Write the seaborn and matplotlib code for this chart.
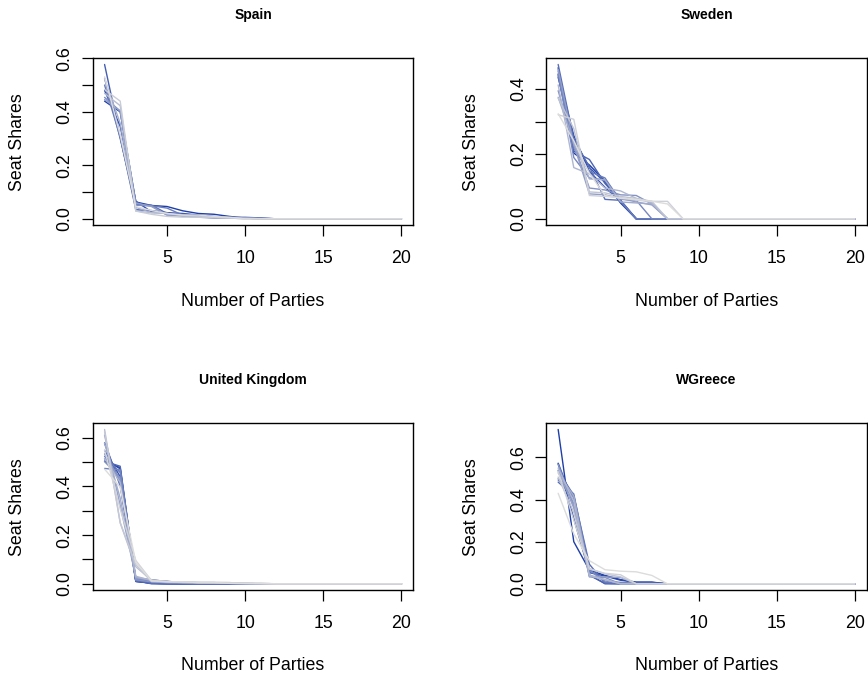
import numpy as np
import pandas as pd
import matplotlib
matplotlib.use("Agg")
import matplotlib.pyplot as plt
import seaborn as sns
from matplotlib.colors import LinearSegmentedColormap

# seat shares per election, largest party first (oldest election first);
# every election is plotted out to 20 parties, the rest being zero seats
N_PARTIES = 20

spain_shares = [
    [0.440, 0.400, 0.063, 0.050, 0.046, 0.030, 0.020, 0.017, 0.009, 0.003],
    [0.480, 0.346, 0.066, 0.026, 0.023, 0.020, 0.014, 0.009, 0.003, 0.003, 0.003],
    [0.577, 0.306, 0.034, 0.031, 0.023, 0.011, 0.006, 0.006, 0.003, 0.003],
    [0.526, 0.300, 0.054, 0.051, 0.020, 0.017, 0.014, 0.006, 0.003, 0.003],
    [0.500, 0.306, 0.051, 0.049, 0.040, 0.014, 0.011, 0.006, 0.006, 0.006, 0.003],
    [0.454, 0.403, 0.051, 0.049, 0.014, 0.011, 0.006, 0.003, 0.003, 0.003],
    [0.446, 0.403, 0.060, 0.046, 0.014, 0.011, 0.006, 0.006, 0.003, 0.003],
    [0.523, 0.357, 0.043, 0.023, 0.020, 0.011, 0.009, 0.003, 0.003, 0.003],
    [0.469, 0.423, 0.029, 0.023, 0.020, 0.014, 0.009, 0.006, 0.003],
    [0.483, 0.440, 0.029, 0.017, 0.009, 0.006, 0.006, 0.006, 0.003],
    [0.531, 0.314, 0.046, 0.031, 0.020, 0.014, 0.014, 0.009, 0.006],
]

sweden_shares = [
    [0.466, 0.203, 0.166, 0.117, 0.049],
    [0.446, 0.257, 0.146, 0.097, 0.054],
    [0.436, 0.246, 0.158, 0.112, 0.049],
    [0.441, 0.209, 0.183, 0.109, 0.057],
    [0.476, 0.246, 0.160, 0.060, 0.057],
    [0.456, 0.218, 0.146, 0.126, 0.054],
    [0.447, 0.189, 0.126, 0.120, 0.060, 0.057],
    [0.395, 0.229, 0.095, 0.089, 0.074, 0.072, 0.046],
    [0.461, 0.229, 0.077, 0.074, 0.063, 0.052, 0.043],
    [0.375, 0.235, 0.123, 0.120, 0.052, 0.049, 0.046],
    [0.413, 0.158, 0.138, 0.095, 0.086, 0.063, 0.049],
    [0.372, 0.278, 0.083, 0.080, 0.069, 0.063, 0.054],
    [0.321, 0.307, 0.072, 0.069, 0.066, 0.057, 0.054, 0.054],
    [0.324, 0.241, 0.140, 0.072, 0.063, 0.060, 0.054, 0.046],
]

uk_shares = [
    [0.504, 0.477, 0.014, 0.003, 0.002],
    [0.514, 0.472, 0.010, 0.003, 0.002],
    [0.548, 0.440, 0.010, 0.003],
    [0.579, 0.410, 0.010, 0.002],
    [0.503, 0.483, 0.014],
    [0.578, 0.402, 0.019, 0.002],
    [0.524, 0.457, 0.013, 0.010, 0.002, 0.002],
    [0.474, 0.468, 0.022, 0.011, 0.011, 0.003, 0.003, 0.002, 0.002],
    [0.502, 0.436, 0.020, 0.017, 0.009, 0.005, 0.003, 0.002, 0.002],
    [0.534, 0.424, 0.017, 0.008, 0.005, 0.003, 0.003, 0.002, 0.002],
    [0.611, 0.322, 0.026, 0.017, 0.009, 0.005, 0.003, 0.003, 0.002, 0.002],
    [0.578, 0.352, 0.026, 0.014, 0.008, 0.005, 0.005, 0.005, 0.005, 0.002],
    [0.516, 0.416, 0.031, 0.014, 0.006, 0.006, 0.005, 0.005, 0.002],
    [0.634, 0.250, 0.070, 0.015, 0.009, 0.006, 0.005, 0.003, 0.003, 0.002, 0.002],
    [0.625, 0.252, 0.079, 0.009, 0.008, 0.008, 0.006, 0.006, 0.005, 0.002],
    [0.550, 0.307, 0.096, 0.014, 0.009, 0.008, 0.005, 0.005, 0.003, 0.002, 0.002],
    [0.471, 0.397, 0.088, 0.012, 0.009, 0.008, 0.005, 0.005, 0.002, 0.002, 0.002],
]

greece_shares = [
    [0.733, 0.200, 0.065, 0.040, 0.020, 0.008, 0.008],
    [0.570, 0.310, 0.053, 0.037, 0.017, 0.007, 0.007],
    [0.573, 0.383, 0.043],
    [0.537, 0.420, 0.040, 0.003],
    [0.483, 0.417, 0.093, 0.003, 0.003],
    [0.493, 0.427, 0.070, 0.007, 0.003],
    [0.500, 0.410, 0.063, 0.013, 0.007, 0.003, 0.003],
    [0.567, 0.370, 0.033, 0.030],
    [0.540, 0.360, 0.037, 0.033, 0.030],
    [0.527, 0.417, 0.037, 0.020],
    [0.550, 0.390, 0.040, 0.020],
    [0.507, 0.340, 0.073, 0.047, 0.033],
    [0.533, 0.303, 0.070, 0.050, 0.043],
    [0.430, 0.237, 0.110, 0.067, 0.060, 0.057, 0.040],
]

countries = ["Spain", "Sweden", "United Kingdom", "WGreece"]
all_shares = [spain_shares, sweden_shares, uk_shares, greece_shares]

y_ticks = {
    "Spain": [0.0, 0.1, 0.2, 0.3, 0.4, 0.5, 0.6],
    "Sweden": [0.0, 0.1, 0.2, 0.3, 0.4],
    "United Kingdom": [0.0, 0.1, 0.2, 0.3, 0.4, 0.5, 0.6],
    "WGreece": [0.0, 0.2, 0.4, 0.6],
}
x_ticks = [5, 10, 15, 20]


def to_long(elections):
    rows = []
    for i, shares in enumerate(elections):
        padded = list(shares) + [0.0] * (N_PARTIES - len(shares))
        for p, s in enumerate(padded, start=1):
            rows.append((f"e{i:02d}", p, s))
    return pd.DataFrame(rows, columns=["election", "party", "share"])


sns.set_style("ticks", rc={
    "axes.edgecolor": "black", "xtick.color": "black", "ytick.color": "black",
    "text.color": "black", "axes.labelcolor": "black",
})
plt.rcParams["font.family"] = ["Liberation Sans", "DejaVu Sans"]

W, H = 868, 681
fig = plt.figure(figsize=(W / 100, H / 100), dpi=100)
fig.patch.set_facecolor("white")

# axes boxes in pixels: left, top, right, bottom
boxes = {
    "Spain": (92.7, 58.3, 413.3, 225.0),
    "Sweden": (546.3, 58.3, 866.7, 225.0),
    "United Kingdom": (92.7, 423.3, 413.3, 590.0),
    "WGreece": (546.3, 423.3, 866.7, 590.0),
}

ramp = LinearSegmentedColormap.from_list("ramp", ["#1E3EA8", "#DCDCDC"])

for name, shares in zip(countries, all_shares):
    l, t, r, b = boxes[name]
    ax = fig.add_axes([l / W, 1 - b / H, (r - l) / W, (b - t) / H])
    df = to_long(shares)
    n = len(shares)
    colors = [ramp(i / (n - 1)) for i in range(n)]
    sns.lineplot(data=df, x="party", y="share", hue="election", palette=colors,
                 legend=False, estimator=None, sort=False, lw=1.0, ax=ax)

    top = max(max(s) for s in shares)
    ax.set_xticks(x_ticks)
    ax.set_yticks(y_ticks[name])
    labels = [f"{v:.1f}" if (round(v * 10) % 2 == 0) else "" for v in y_ticks[name]]
    ax.set_yticklabels(labels)
    ax.set_xlim(1 - 0.04 * (N_PARTIES - 1), N_PARTIES + 0.04 * (N_PARTIES - 1))
    ax.set_ylim(-0.04 * top, 1.04 * top)
    ax.tick_params(axis="both", length=8, width=0.9, labelsize=12.8)
    ax.tick_params(axis="x", pad=10)
    ax.tick_params(axis="y", pad=6, labelrotation=90)
    for lab in ax.get_yticklabels():
        lab.set_va("center")
    for sp in ax.spines.values():
        sp.set_visible(True)
        sp.set_linewidth(1.0)
    ax.set_xlabel("")
    ax.set_ylabel("")

    cx = (l + r) / 2
    fig.text(cx / W, 1 - (t - 43) / H, name, ha="center", va="center",
             fontsize=10, fontweight="bold")
    fig.text(cx / W, 1 - (b + 76) / H, "Number of Parties", ha="center", va="center",
             fontsize=12.8)
    fig.text((l - 75) / W, 1 - ((t + b) / 2) / H, "Seat Shares", ha="center",
             va="center", rotation=90, fontsize=12.8)

fig.savefig("out.png", dpi=100, facecolor="white")
